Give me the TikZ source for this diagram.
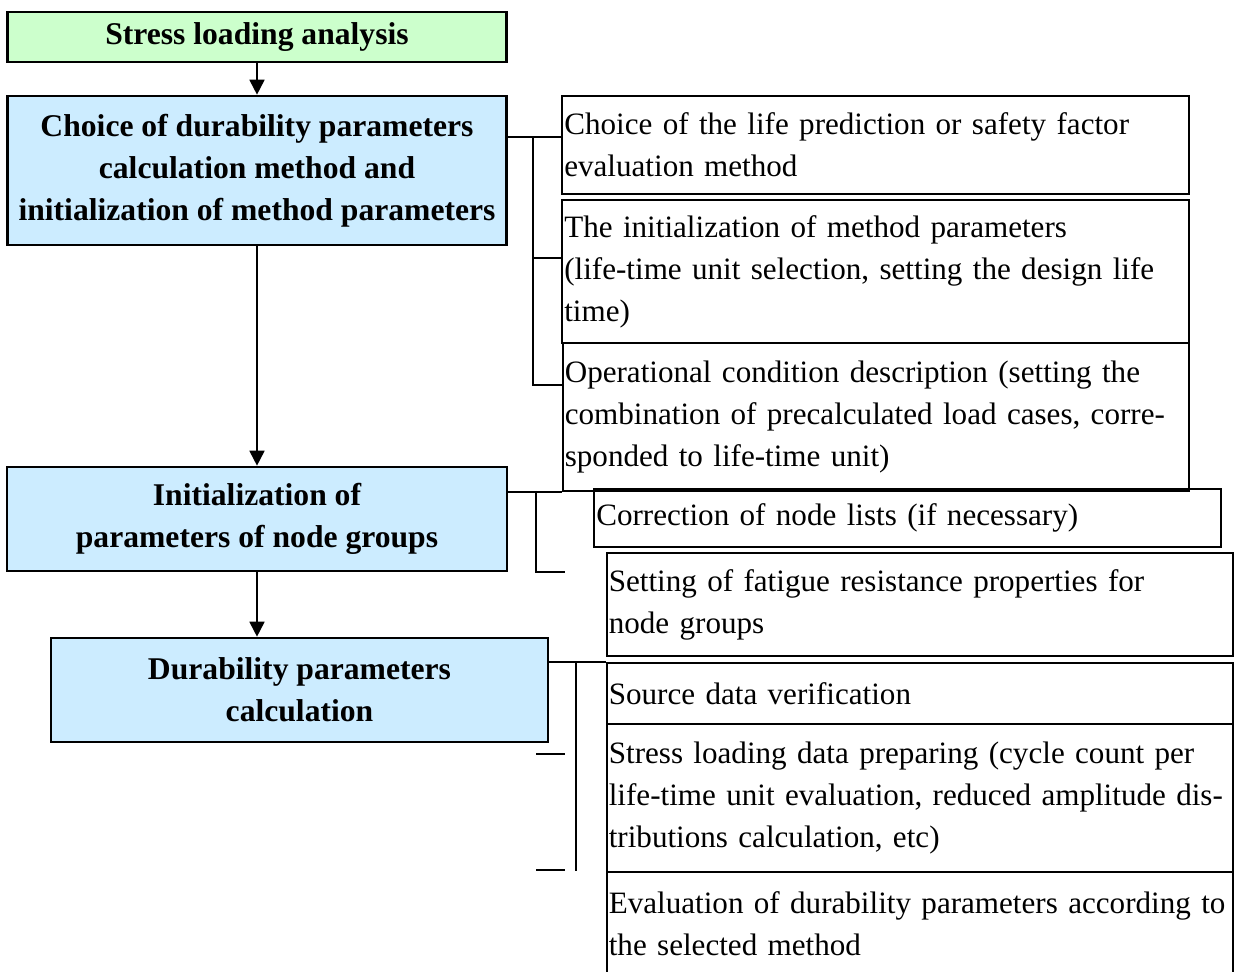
\documentclass[tikz,border=0pt]{standalone}
\usepackage{fontspec}
\setmainfont{Liberation Serif}
\usepackage{xcolor}
\usetikzlibrary{arrows.meta}
\definecolor{phasegreen}{HTML}{CCFFCC}
\definecolor{phaseblue}{HTML}{CCECFF}
\newcommand{\boxfont}{\fontsize{18}{23.9}\selectfont}
\newcommand{\infofont}{\fontsize{17.7}{23.9}\selectfont}

\begin{document}
\begin{tikzpicture}[x=0.02cm, y=-0.02cm,
      phase/.style={draw, line width=1.5pt, align=center, font=\boxfont\bfseries, fill=phaseblue, inner sep=0pt},
      start/.style={phase, fill=phasegreen},
      info/.style={draw, line width=1pt, align=left, font=\infofont, text width=12.45cm, inner xsep=0.04cm, inner ysep=0pt},
      link/.style={line width=1pt},
      arrowstyle/.style={-{Triangle[width=0.3cm, length=0.3cm]}, line width=1pt}
    ]
    \useasboundingbox (0,0) rectangle (1241,972);

    \node[start, minimum width=9.98cm, minimum height=1.0cm] (stress) at (257,37) {Stress loading analysis};
    \node[phase, minimum width=9.98cm, minimum height=2.98cm] (choice) at (257,170.5) {Choice of durability parameters\\calculation method and\\initialization of method parameters};
    \node[phase, minimum width=10.0cm, minimum height=2.08cm] (init) at (257,519) {Initialization of\\parameters of node groups};
    \node[phase, minimum width=9.94cm, minimum height=2.08cm] (calc) at (299.5,690) {Durability parameters\\calculation};

    \node[info, minimum height=1.96cm] (lifepred) at (875.5,145) {\mbox{Choice of the life prediction or safety factor}\\evaluation method};
    \node[info, minimum height=2.86cm] (methinit) at (875.5,271.5) {\mbox{The initialization of method parameters}\\\mbox{(life-time unit selection, setting the design life}\\time)};
    \node[info, minimum height=2.96cm] (opcond) at (876,417) {\mbox{Operational condition description (setting the}\\\mbox{combination of precalculated load cases, corre-}\\\mbox{sponded to life-time unit)}};
    \node[info, minimum height=1.16cm] (nodelist) at (907.5,518) {\mbox{Correction of node lists (if necessary)}};
    \node[info, minimum height=2.06cm] (fatigue) at (920,604.5) {\mbox{Setting of fatigue resistance properties for}\\node groups};
    \node[info, minimum height=1.22cm] (srcdata) at (920,693.5) {Source data verification};
    \node[info, minimum height=2.96cm] (loadprep) at (920,798) {\mbox{Stress loading data preparing (cycle count per}\\\mbox{life-time unit evaluation, reduced amplitude dis-}\\\mbox{tributions calculation, etc)}};
    \node[info, minimum height=2.08cm] (evalpar) at (920,924) {\mbox{Evaluation of durability parameters according to}\\\mbox{the selected method}};

    \coordinate (cj) at (533,137);
    \coordinate (cjb) at (533,258);
    \coordinate (cjc) at (533,385);
    \coordinate (ij) at (536,491);
    \coordinate (iend) at (565,572);
    \coordinate (kj) at (576,663);
    \coordinate (kend) at (576,871);
    \coordinate (ta) at (536,754);
    \coordinate (tae) at (565,754);
    \coordinate (tb) at (536,870);
    \coordinate (tbe) at (565,870);

    \draw[arrowstyle] (stress) -- (choice);
    \draw[arrowstyle] (choice) -- (init);
    \draw[arrowstyle] (init.south) -- (init.south |- calc.north);

    \draw[link] (choice.east |- cj) -- (lifepred.west |- cj);
    \draw[link] (cj) -- (cjc) -- (opcond.west |- cjc);
    \draw[link] (cjb) -- (methinit.west |- cjb);

    \draw[link] (init.east |- opcond.south west) -- (opcond.south west);
    \draw[link] (ij) |- (iend);

    \draw[link] (calc.east |- srcdata.north west) -- (srcdata.north west);
    \draw[link] (kj) -- (kend);
    \draw[link] (ta) -- (tae);
    \draw[link] (tb) -- (tbe);
  \end{tikzpicture}
\end{document}
